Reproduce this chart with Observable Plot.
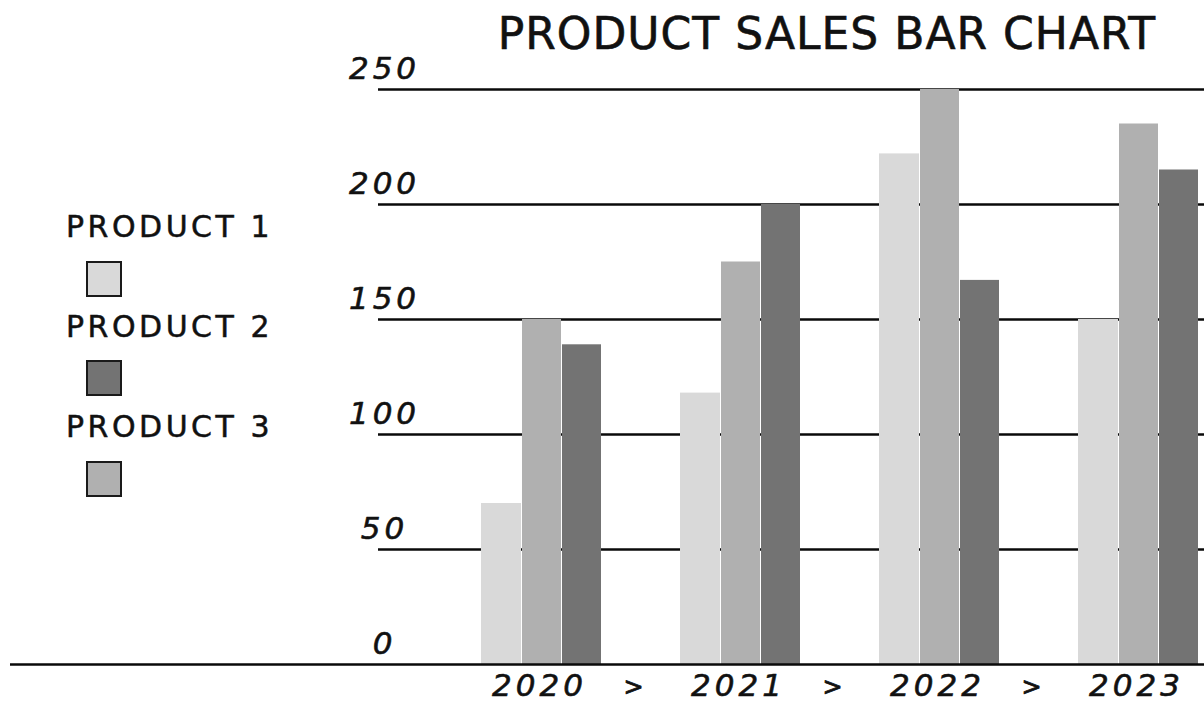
<!DOCTYPE html>
<html>
<head>
<meta charset="utf-8">
<script src="https://cdn.jsdelivr.net/npm/d3@7"></script>
<script src="https://cdn.jsdelivr.net/npm/@observablehq/plot@0.6"></script>
<style>
  html, body { margin: 0; padding: 0; background: #fff; }
  #wrap { position: relative; width: 1204px; height: 711px; overflow: hidden; font-family: "DejaVu Sans", sans-serif; color: #111; }
  #chart { position: absolute; left: 0; top: 0; }
  #title { position: absolute; left: 827px; top: 12px; transform: translateX(-50%); white-space: nowrap; font-size: 44px; line-height: 1; letter-spacing: 1px; -webkit-text-stroke: 0.6px #111; }
  .leg-label { position: absolute; left: 66px; font-size: 30px; line-height: 1; white-space: nowrap; letter-spacing: 3.5px; -webkit-text-stroke: 0.5px #111; }
  .leg-swatch { position: absolute; left: 86px; width: 32px; height: 32px; border: 2.5px solid #1a1a1a; }
  #chart svg text { letter-spacing: 4px; }
</style>
</head>
<body>
<div id="wrap">
  <div id="chart"></div>
  <div id="title"></div>
  <div id="legend"></div>
</div>
<script>
// ---- data ----
const titleText = "PRODUCT SALES BAR CHART";
const years = ["2020", "2021", "2022", "2023"];
const product1 = [70, 118, 222, 150];   // light bars
const product2 = [139, 200, 167, 215];  // dark bars
const product3 = [150, 175, 250, 235];  // medium bars
const yTicks = [0, 50, 100, 150, 200, 250];
const separators = ["2020", "2021", "2022"];
const productNames = ["PRODUCT 1", "PRODUCT 2", "PRODUCT 3"];
const productColors = ["#d9d9d9", "#737373", "#b0b0b0"];

const rows = (vals) => years.map((year, i) => ({year, value: vals[i]}));
const FONT = "DejaVu Sans";

document.getElementById("title").textContent = titleText;

const legend = document.getElementById("legend");
const labelTops = [212, 312, 412];
const swatchTops = [261, 360, 461];
productNames.forEach((name, i) => {
  const l = document.createElement("div");
  l.className = "leg-label";
  l.style.top = labelTops[i] + "px";
  l.textContent = name;
  legend.appendChild(l);
  const s = document.createElement("div");
  s.className = "leg-swatch";
  s.style.top = swatchTops[i] + "px";
  s.style.background = productColors[i];
  legend.appendChild(s);
});

const chart = Plot.plot({
  width: 1204,
  height: 711,
  marginTop: 89,
  marginBottom: 47,
  marginLeft: 10,
  marginRight: 0,
  style: {background: "transparent", overflow: "visible"},
  x: {type: "band", domain: years, range: [481, 1198], paddingInner: 0.397, paddingOuter: 0, axis: null},
  y: {domain: [0, 250], axis: null},
  marks: [
    Plot.ruleY(yTicks.filter(d => d > 0), {y: d => d, stroke: "#0a0a0a", strokeWidth: 2.6, insetLeft: 368}),
    Plot.barY(rows(product1), {x: "year", y: "value", fill: productColors[0], insetRight: 80}),
    Plot.barY(rows(product3), {x: "year", y: "value", fill: productColors[2], insetLeft: 41, insetRight: 40}),
    Plot.barY(rows(product2), {x: "year", y: "value", fill: productColors[1], insetLeft: 81}),
    Plot.ruleY([0], {stroke: "#0a0a0a", strokeWidth: 2.6}),
    Plot.text(yTicks, {y: d => d, text: d => String(d), frameAnchor: "left", dx: 374, dy: -20,
      fontSize: 31, fontStyle: "italic", fontFamily: FONT, textAnchor: "middle",
      fill: "#111", stroke: "#111", strokeWidth: 0.6}),
    Plot.text(years, {x: d => d, text: d => d, frameAnchor: "bottom", dx: -2, dy: 31,
      fontSize: 31, fontStyle: "italic", fontFamily: FONT,
      fill: "#111", stroke: "#111", strokeWidth: 0.6}),
    Plot.text(separators, {x: d => d, text: () => ">", frameAnchor: "bottom", dx: 94, dy: 30,
      fontSize: 24, fontFamily: FONT, fill: "#111", stroke: "#111", strokeWidth: 0.8})
  ]
});
document.getElementById("chart").appendChild(chart);
</script>
</body>
</html>
